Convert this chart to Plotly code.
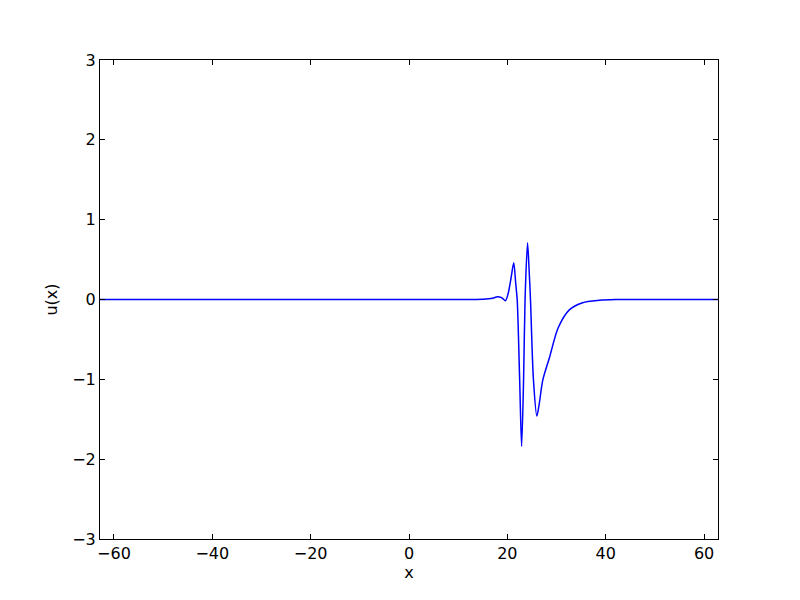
import math
import plotly.graph_objects as go

# u(x)
x_vals = [-20 * math.pi, -40, -20, 0, 10, 15, 17, 18.0, 18.9, 19.6, 20.1, 20.7, 21.3,
          21.7, 22.0, 22.5, 22.9, 23.3, 23.6, 24.1, 24.4, 24.7, 25.3, 26.0, 26.5,
          27.2, 28.6, 30.3, 32.6, 35.3, 38.7, 42, 50, 20 * math.pi]
u_vals = [0, 0, 0, 0, 0, 0.003, 0.015, 0.035, 0.02, -0.015, 0.06, 0.25, 0.46,
          0.2, 0.0, -1.0, -1.84, -1.0, 0.0, 0.71, 0.4, 0.0, -1.0, -1.46, -1.3,
          -1.01, -0.72, -0.36, -0.13, -0.04, -0.01, 0, 0, 0]

fig = go.Figure(go.Scatter(x=x_vals, y=u_vals, mode='lines',
                           line=dict(color='#0000ff', width=1.5, shape='spline', smoothing=0.8)))

font = dict(family='DejaVu Sans', size=16, color='black')
axis_style = dict(showgrid=False, zeroline=False, showline=True, linecolor='black',
                  linewidth=1, mirror='ticks', ticks='inside', ticklen=5,
                  tickcolor='black', tickfont=font)

# the page adds an 8px body margin, so margins are shifted to compensate
fig.update_layout(
    width=800, height=600,
    margin=dict(l=92, r=90, t=52, b=69),
    paper_bgcolor='white', plot_bgcolor='white',
    showlegend=False,
    xaxis=dict(range=[-20 * math.pi, 20 * math.pi], tickvals=[-60, -40, -20, 0, 20, 40, 60],
               title=dict(text='x', font=font, standoff=0),
               **axis_style),
    yaxis=dict(range=[-3, 3], dtick=1,
               title=dict(text='u(x)', font=font, standoff=10),
               **axis_style),
)

fig.write_html("out.html")
